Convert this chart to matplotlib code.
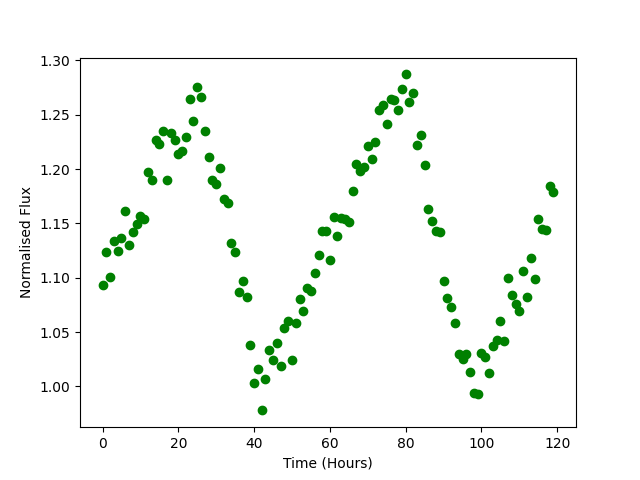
import numpy as np
import matplotlib
matplotlib.use("Agg")
import matplotlib.pyplot as plt

# hourly samples, 0..119
time_hours = np.arange(120)
flux = [1.093, 1.124, 1.101, 1.134, 1.125, 1.137, 1.161, 1.130, 1.142, 1.149,
        1.157, 1.154, 1.197, 1.190, 1.227, 1.223, 1.235, 1.190, 1.233, 1.227,
        1.214, 1.217, 1.229, 1.264, 1.244, 1.275, 1.266, 1.235, 1.211, 1.190,
        1.186, 1.201, 1.172, 1.169, 1.132, 1.124, 1.087, 1.097, 1.082, 1.038,
        1.003, 1.016, 0.978, 1.007, 1.034, 1.024, 1.040, 1.019, 1.054, 1.060,
        1.024, 1.058, 1.080, 1.069, 1.091, 1.088, 1.104, 1.121, 1.143, 1.143,
        1.116, 1.156, 1.138, 1.155, 1.154, 1.151, 1.180, 1.205, 1.198, 1.202,
        1.221, 1.209, 1.225, 1.254, 1.259, 1.241, 1.264, 1.263, 1.254, 1.274,
        1.287, 1.262, 1.270, 1.222, 1.231, 1.204, 1.163, 1.152, 1.143, 1.142,
        1.097, 1.081, 1.073, 1.058, 1.030, 1.025, 1.030, 1.013, 0.994, 0.993,
        1.031, 1.027, 1.012, 1.037, 1.043, 1.060, 1.042, 1.100, 1.084, 1.076,
        1.069, 1.106, 1.082, 1.118, 1.099, 1.154, 1.145, 1.144, 1.184, 1.179]

plt.figure(figsize=(6.4, 4.8), dpi=100)
plt.plot(time_hours, flux, "go")
plt.xlabel("Time (Hours)")
plt.ylabel("Normalised Flux")
plt.savefig("out.png")
